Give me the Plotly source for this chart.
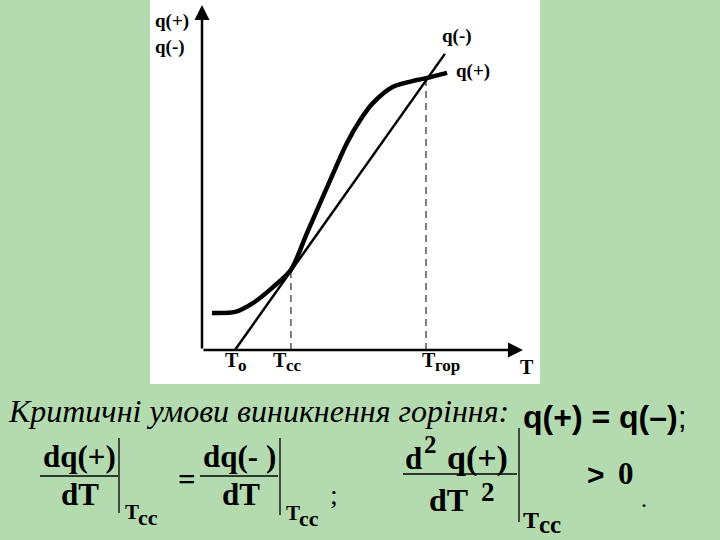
import plotly.graph_objects as go

W, H = 720, 540

# ---- data (chart units) ----
T_plus = [0.31, 1.03, 1.59, 2.22, 2.78, 3.28, 3.91, 4.53, 4.94, 5.34, 5.97, 6.72, 7.03, 7.66]
q_plus = [1.09, 1.12, 1.38, 1.85, 2.36, 3.44, 4.79, 6.09, 6.76, 7.26, 7.74, 7.94, 8.00, 8.15]
T_minus = [1.03, 7.59]
q_minus = [0.00, 8.71]
T0, Tcc, Tgor = 1.03, 2.78, 7.0
q_cc, q_gor = 2.32, 7.93

tick_subs = ["о", "cc", "гор"]

# pixel helpers for layout only
def px(x):
    return x / W
def py(y):
    return 1 - y / H

FONT_SERIF = "Liberation Serif, Times New Roman, serif"
FONT_SANS = "Liberation Sans, Arial, sans-serif"

fig = go.Figure()
fig.add_trace(go.Scatter(x=T_plus, y=q_plus, mode="lines",
                         line=dict(color="black", width=4.5, shape="spline", smoothing=0.8),
                         hoverinfo="skip", showlegend=False))
fig.add_trace(go.Scatter(x=T_minus, y=q_minus, mode="lines",
                         line=dict(color="black", width=2.5),
                         hoverinfo="skip", showlegend=False))
# dashed verticals
fig.add_trace(go.Scatter(x=[Tcc, Tcc], y=[0, q_cc], mode="lines",
                         line=dict(color="black", width=1, dash="7px,5px"),
                         hoverinfo="skip", showlegend=False))
fig.add_trace(go.Scatter(x=[Tgor, Tgor], y=[0, q_gor], mode="lines",
                         line=dict(color="black", width=1, dash="7px,5px"),
                         hoverinfo="skip", showlegend=False))

ann = []
# axes with arrows
ann.append(dict(x=10.03, y=0, ax=0, ay=0, xref="x", yref="y", axref="x", ayref="y",
                text="", showarrow=True, arrowhead=2, arrowsize=1.2, arrowwidth=2.5, arrowcolor="black"))
ann.append(dict(x=0, y=10.15, ax=0, ay=0, xref="x", yref="y", axref="x", ayref="y",
                text="", showarrow=True, arrowhead=2, arrowsize=1.2, arrowwidth=2.5, arrowcolor="black"))

def F(size, fam=FONT_SERIF):
    return dict(family=fam, size=size, color="black")

def t(x, y, s, font, xa="left", ya="middle"):
    ann.append(dict(x=px(x), y=py(y), xref="paper", yref="paper", text=s, showarrow=False,
                    font=font, xanchor=xa, yanchor=ya, borderpad=0))

lab = F(19)
t(154, 21, "<b>q(+)</b>", lab)
t(154, 47, "<b>q(-)</b>", lab)
t(441, 36, "<b>q(-)</b>", lab)
t(455, 71, "<b>q(+)</b>", lab)
# T labels with subscripts
for xT, sub_txt in zip([224, 272, 421], tick_subs):
    t(xT, 360, "<b>T</b>", F(20))
    t(xT + 13, 365, "<b>" + sub_txt + "</b>", F(17))
t(519, 367, "<b>T</b>", F(20))

# bottom text
t(7, 411, "<i>Критичні умови виникнення горіння:</i>", F(32))
t(522, 417, "<b>q(+) = q(–)</b>;", F(32, FONT_SANS))

fr = F(31)
t(79, 456, "<b>dq(+)</b>", fr, xa="center")
t(80, 494, "<b>dT</b>", fr, xa="center")
t(124, 512, "<b>T</b>", F(21))
t(137, 517, "<b>cc</b>", F(22))
t(187, 479, "<b>=</b>", fr, xa="center")
t(239, 456, "<b>dq(- )</b>", fr, xa="center")
t(241, 494, "<b>dT</b>", fr, xa="center")
t(285, 513, "<b>T</b>", F(21))
t(298, 518, "<b>cc</b>", F(22))
t(334, 494, ";", F(28), xa="center")
# second-derivative fraction
t(414, 458, "<b>d</b>", fr, xa="center")
t(430, 444, "<b>2</b>", F(25), xa="center")
t(477, 458, "<b>q(+)</b>", F(34), xa="center")
t(448, 500, "<b>dT</b>", F(32), xa="center")
t(488, 492, "<b>2</b>", F(27), xa="center")
t(522, 520, "<b>T</b>", F(24))
t(538, 524, "<b>cc</b>", F(25))
t(596, 474, "<b>&gt;</b>", F(30, FONT_SANS), xa="center")
t(626, 473, "<b>0</b>", F(31), xa="center")
t(644, 499, ".", F(24), xa="center")

shapes = []
def hline(x0, x1, y):
    shapes.append(dict(type="line", xref="paper", yref="paper", x0=px(x0), x1=px(x1),
                       y0=py(y), y1=py(y), line=dict(color="black", width=1.3)))
def vline(x, y0, y1):
    shapes.append(dict(type="line", xref="paper", yref="paper", x0=px(x), x1=px(x),
                       y0=py(y0), y1=py(y1), line=dict(color="black", width=1.3)))
hline(40, 118, 476)
vline(119, 438, 513)
hline(200, 278, 476)
vline(280, 438, 515)
hline(403, 517, 474)
vline(519, 428, 522)

fig.update_layout(
    width=W, height=H, margin=dict(l=0, r=0, t=0, b=0),
    paper_bgcolor="#b4dbb0", plot_bgcolor="white",
    xaxis=dict(domain=[px(150), px(540)], range=[(150 - 202) / 32, (540 - 202) / 32],
               visible=False, fixedrange=True),
    yaxis=dict(domain=[py(384), 1], range=[(350 - 384) / 34, 350 / 34],
               visible=False, fixedrange=True),
    annotations=ann, shapes=shapes, showlegend=False,
)
fig.write_html("out.html", config={"displayModeBar": False},
               post_script="document.body.style.margin='0';document.body.style.overflow='hidden';")
